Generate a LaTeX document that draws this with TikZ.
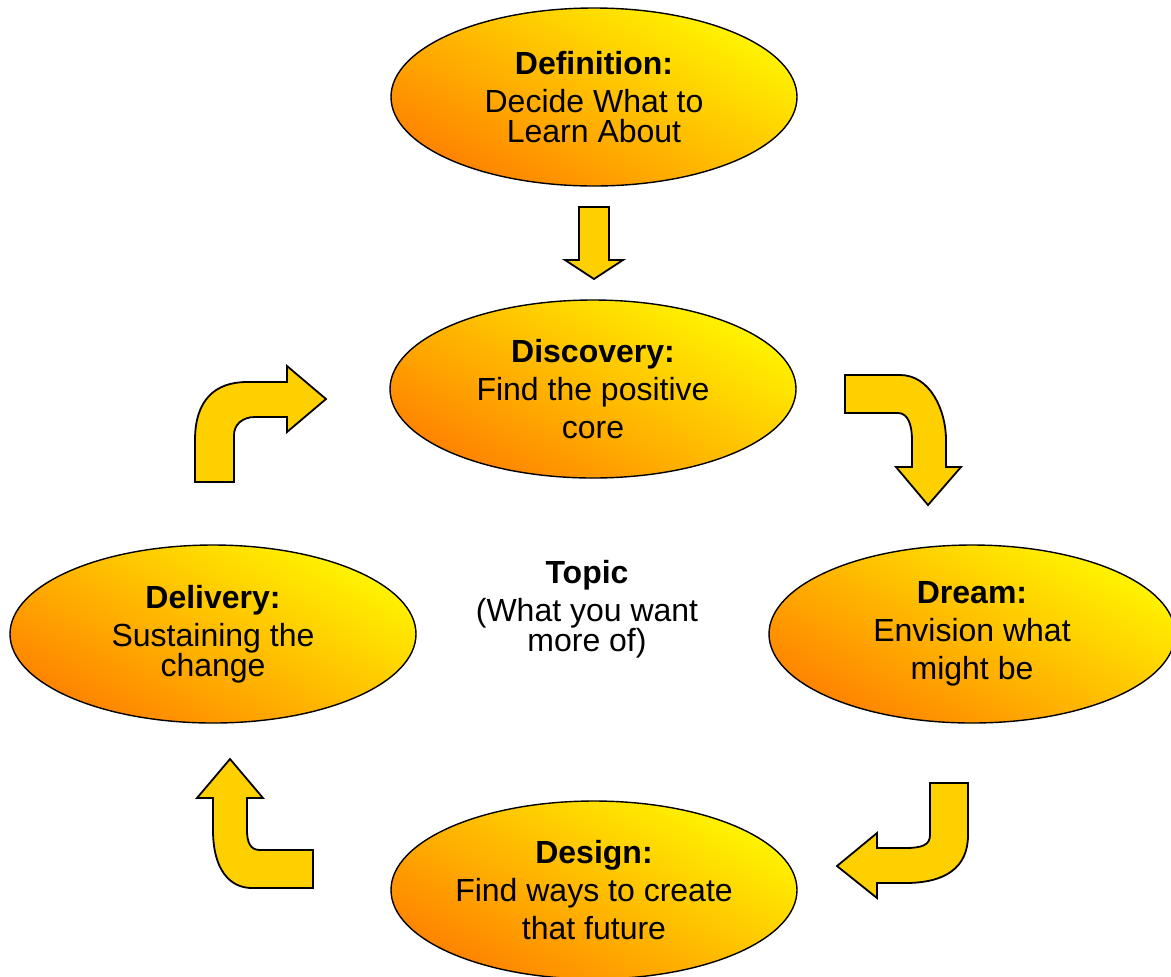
\documentclass[tikz,border=0pt]{standalone}
\usepackage{fontspec}
\setmainfont{Liberation Sans}
\usetikzlibrary{shapes.geometric}
\definecolor{stageyellow}{RGB}{255,245,0}
\definecolor{stageorange}{RGB}{255,130,0}
\definecolor{arrowgold}{RGB}{255,208,0}

\begin{document}
\begin{tikzpicture}[x=0.5pt,y=-0.5pt,
        stage/.style={ellipse, draw, line width=0.7pt, minimum width=203pt, minimum height=89pt, inner sep=0pt,
            top color=stageyellow, bottom color=stageorange, shading angle=-28,
            align=center, font=\fontsize{16}{19}\selectfont},
        blockarrow/.style={draw, fill=arrowgold, line width=0.9pt, line join=miter}]
    \useasboundingbox (0,0) rectangle (1171,976);
    \node[stage] (def) at (594,97) {\textbf{Definition:}\\Decide What to\\[-4pt]Learn About};
    \node[stage] (disc) at (593,389) {\textbf{Discovery:}\\Find the positive\\core};
    \node[stage] (dream) at (972,634) {\textbf{Dream:}\\Envision what\\might be};
    \node[stage] (design) at (594,890) {\textbf{Design:}\\Find ways to create\\that future};
    \node[stage] (deliv) at (213,634) {\textbf{Delivery:}\\Sustaining the\\[-4pt]change};
    \node[align=center, font=\fontsize{16}{19}\selectfont] (topic) at (587,609)
        {\textbf{Topic}\\(What you want\\[-4pt]more of)};
    \draw[blockarrow] (579,207) -- (609,207) -- (609,260) -- (623,260) -- (594,279) -- (565,260) -- (579,260) -- cycle;
    \draw[blockarrow] (845,375) -- (900,375) .. controls (930,375) and (946,410) .. (946,440)
        -- (946,467) -- (961,467) -- (928,505) -- (896,467) -- (912,467) -- (912,440)
        .. controls (912,425) and (908,413) .. (898,413) -- (845,413) -- cycle;
    \draw[blockarrow] (930,783) -- (968,783) -- (968,835) .. controls (968,868) and (945,883) .. (905,883)
        -- (877,883) -- (877,898) -- (837,866) -- (877,833) -- (877,848) -- (905,848)
        .. controls (922,848) and (930,845) .. (930,835) -- cycle;
    \draw[blockarrow] (313,850) -- (260,850) .. controls (250,850) and (247,842) .. (247,830)
        -- (247,798) -- (263,798) -- (230,759) -- (197,798) -- (213,798) -- (213,830)
        .. controls (213,870) and (230,888) .. (252,888) -- (313,888) -- cycle;
    \draw[blockarrow] (195,482) -- (195,440) .. controls (195,400) and (215,382) .. (247,382)
        -- (287,382) -- (287,366) -- (326,399) -- (287,432) -- (287,417) -- (255,417)
        .. controls (242,417) and (234,425) .. (234,435) -- (234,482) -- cycle;
\end{tikzpicture}
\end{document}
